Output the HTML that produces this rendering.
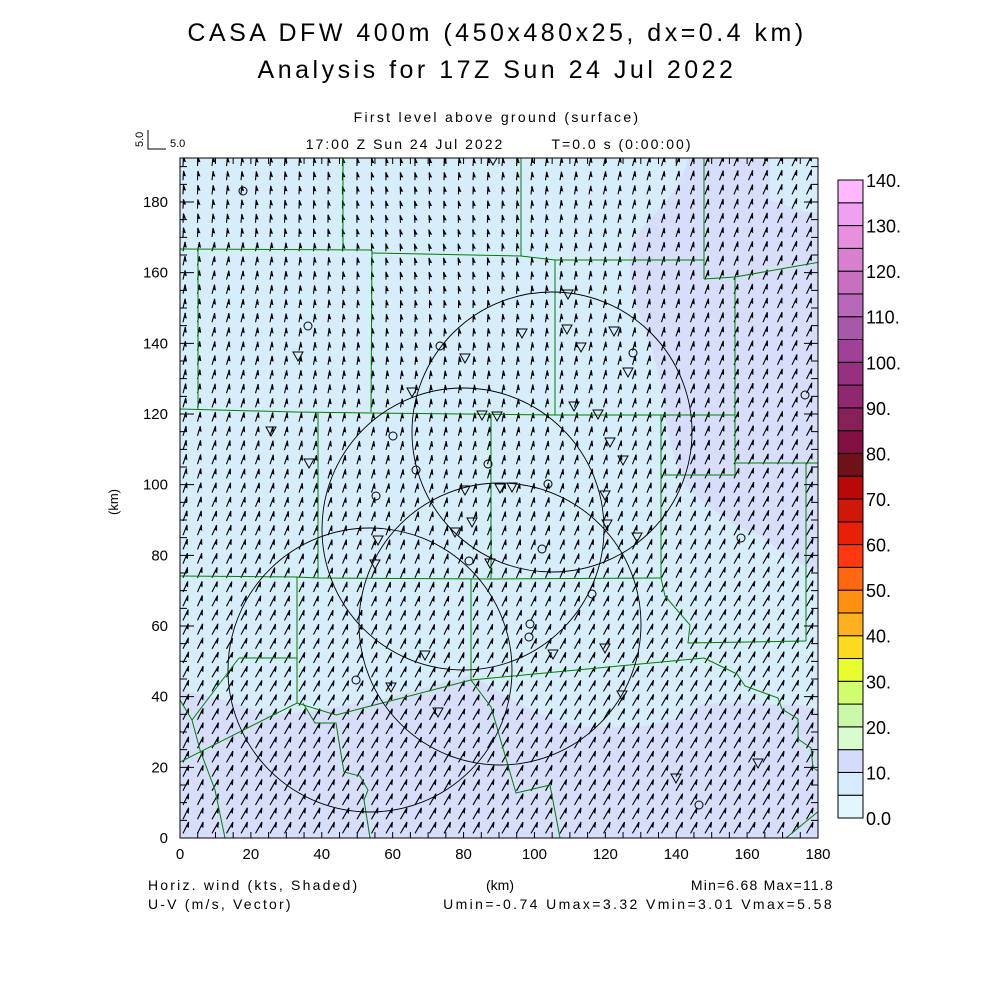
<!DOCTYPE html>
<html><head><meta charset="utf-8">
<style>
html,body{margin:0;padding:0;background:#fff;}
svg{display:block;font-family:"Liberation Sans",sans-serif;}
</style></head>
<body>
<svg id="s" width="1000" height="1000" viewBox="0 0 1000 1000" xmlns="http://www.w3.org/2000/svg">
<rect width="1000" height="1000" fill="#fff"/>
<text x="497" y="41" font-size="25" text-anchor="middle" fill="#000" letter-spacing="3.5">CASA DFW 400m (450x480x25, dx=0.4 km)</text>
<text x="497" y="78" font-size="25" text-anchor="middle" fill="#000" letter-spacing="3.5">Analysis for 17Z Sun 24 Jul 2022</text>
<text x="497" y="122" font-size="14" text-anchor="middle" letter-spacing="2.3">First level above ground (surface)</text>
<text x="405" y="149" font-size="14" text-anchor="middle" letter-spacing="2">17:00 Z Sun 24 Jul 2022</text>
<text x="622" y="149" font-size="14" text-anchor="middle" letter-spacing="2">T=0.0 s (0:00:00)</text>
<text x="0" y="0" font-size="11" transform="translate(143,147) rotate(-90)">5.0</text>
<path d="M148,130 V149 H166" stroke="#000" fill="none"/>
<text x="170" y="147" font-size="11">5.0</text>
<defs><clipPath id="cp"><rect x="180" y="158" width="638" height="680"/></clipPath></defs>
<g clip-path="url(#cp)">
<rect x="180" y="158" width="638" height="680" fill="#d6edfc"/>
<path d="M688,158 C680,200 640,220 630,250 C625,300 660,350 663,404 C670,450 680,480 690,490 C710,510 740,530 760,535 C790,560 810,570 820,570 L820,212 C800,215 790,205 770,200 L770,158 Z" fill="#d6defc"/>
<path d="M180,690 C200,695 230,700 260,712 C290,718 340,705 380,700 C420,690 450,680 470,675 C500,690 550,730 600,727 C650,730 680,720 700,705 C730,700 760,705 800,705 L820,710 L820,838 L180,838 Z" fill="#d6defc"/>
<g id="arrows" stroke="#000" stroke-width="1.1" fill="#000"></g>
<g id="green" stroke="#008000" stroke-width="1" fill="none"></g>
<g stroke="#000" stroke-width="0.9" fill="none">
<circle cx="552" cy="432" r="140"/>
<circle cx="463" cy="529" r="141"/>
<circle cx="500" cy="624" r="141"/>
<circle cx="370" cy="670" r="142"/>
</g>
<g id="marks" stroke="#000" stroke-width="1" fill="none"></g>
</g>
<rect x="180" y="158" width="638" height="680" fill="none" stroke="#000" stroke-width="1"/>
<g id="ticks" stroke="#000" stroke-width="1"></g>
<g id="labels" font-size="15"></g>
<g id="cbar"></g>
<text x="0" y="0" font-size="13" transform="translate(118,515) rotate(-90)">(km)</text>
<text x="500" y="890" font-size="14" text-anchor="middle">(km)</text>
<text x="148" y="890" font-size="14" letter-spacing="2.2">Horiz. wind (kts, Shaded)</text>
<text x="148" y="909" font-size="14" letter-spacing="2.2">U-V (m/s, Vector)</text>
<text x="834" y="890" font-size="14" text-anchor="end" letter-spacing="1.2">Min=6.68 Max=11.8</text>
<text x="834" y="909" font-size="14" text-anchor="end" letter-spacing="2.4">Umin=-0.74 Umax=3.32 Vmin=3.01 Vmax=5.58</text>
</svg>
<script>
(function(){
var NS="http://www.w3.org/2000/svg";
function el(p,t,a,txt){var e=document.createElementNS(NS,t);for(var k in a)e.setAttribute(k,a[k]);if(txt!=null)e.textContent=txt;document.getElementById(p).appendChild(e);return e;}
var d="";
for(var j=0;j<48;j++){for(var i=0;i<45;i++){
 var x=183+i*14.5, y=166+j*14.2;
 var dx=x-430, dy=y-250; var dd=Math.sqrt(dx*dx+dy*dy);
 var u=-0.4+3.4*Math.min(dd/480,1); if(dx<0&&dy<0) u=-0.4+1.2*Math.min(dd/300,1);
 if(x<200) u-=0.4;
 var v=3.4+1.9*Math.min(dd/520,1);
 var L=2.15, ex=x+u*L, ey=y-v*L;
 var ang=Math.atan2(ey-y,ex-x);
 var a1=ang+Math.PI-0.4, hl=5;
 var bx=ex+hl*Math.cos(a1), by=ey+hl*Math.sin(a1);
 var mx=ex+hl*0.85*Math.cos(ang+Math.PI), my=ey+hl*0.85*Math.sin(ang+Math.PI);
 d+="M"+x.toFixed(1)+","+y.toFixed(1)+"L"+ex.toFixed(1)+","+ey.toFixed(1)+"L"+bx.toFixed(1)+","+by.toFixed(1)+"L"+mx.toFixed(1)+","+my.toFixed(1)+"Z";
}}
el("arrows","path",{d:d});
var g=[
"M343,158V249","M180,249L372,250","M198,249V409","M521,158V256","M372,253L521,256L555,260L704,260",
"M704,158V279","M704,279L735,277L820,262","M372,250L371,412","M555,260V415",
"M180,409L295,412L372,413L555,415L735,415","M735,277V463","M661,415V578","M661,475H735V463H820",
"M806,463V641","M318,413V578","M491,415V579","M180,576L297,577L318,578L491,579L661,578",
"M297,577V703","M471,579V680","M239,658H297","M180,762L297,703L336,715L471,680L704,658",
"M661,578L665,596L690,625L688,643L806,641","M704,658L737,674L745,686L778,698L782,709L798,719L798,739L811,748L813,768L820,772",
"M471,680L491,707L516,793L550,785L560,838","M303,703L315,723L336,723L340,748L344,772L360,776L368,790L364,800L370,838",
"M180,700L192,720L200,750L215,790L225,838","M192,720L239,658","M786,838L820,810"];
g.forEach(function(p){el("green","path",{d:p});});
var tri=[[493,160],[271,431],[298,356],[309,463],[412,392],[465,358],[522,333],[482,415],[497,416],[567,329],[581,347],[614,331],[628,372],[568,294],[574,406],[598,414],[610,442],[623,460],[465,490],[455,532],[472,522],[512,487],[500,488],[378,540],[375,564],[605,495],[607,524],[637,537],[425,655],[438,712],[605,648],[622,695],[676,778],[758,763],[553,654],[391,687],[490,563]];
tri.forEach(function(t){var x=t[0],y=t[1];el("marks","path",{d:"M"+(x-5)+","+(y-4)+"H"+(x+5)+"L"+x+","+(y+5)+"Z"});});
var cir=[[243,191],[308,326],[440,346],[393,436],[416,470],[488,464],[376,496],[548,484],[542,549],[469,561],[529,637],[356,680],[592,594],[741,538],[805,395],[699,805],[633,353],[530,624]];
cir.forEach(function(c){el("marks","circle",{cx:c[0],cy:c[1],r:4});});
var px=638/180, py=636/180;
var td="";
for(var k=0;k<=180;k+=5){var x=180+k*px, y=838-k*py; var l=(k%20==0)?14:7;
 td+="M"+x+",158v6M"+x+",838v-6";
 td+="M180,"+y+"h"+l+"M818,"+y+"h-"+l;}
for(var k=185;k<=190;k+=5){var y=838-k*py;td+="M180,"+y+"h7M818,"+y+"h-7";}
el("ticks","path",{d:td});
for(var k=0;k<=180;k+=20){el("labels","text",{x:180+k*px,y:859,"text-anchor":"middle"},String(k));
 el("labels","text",{x:168,y:838-k*py+5,"text-anchor":"end"},String(k));}
var cols=["#e2f6fe","#d4ecfc","#d4dcfc","#d8fcd0","#c8f8a8","#d0fc70","#e8fc30","#ffd820","#ffb020","#ff9010","#ff6810","#ff3810","#e82008","#d01808","#b80808","#701018","#801040","#882058","#902870","#983080","#a04098","#a858a8","#b868b8","#c870c0","#d880d0","#e890e0","#f0a0f0","#ffb8ff"];
var t0=180,b0=818,h=(b0-t0)/28;
for(var k=0;k<28;k++){el("cbar","rect",{x:838,y:b0-(k+1)*h,width:25,height:h,fill:cols[k],stroke:"#000","stroke-width":1});}
for(var k=0;k<=14;k++){el("cbar","text",{x:866,y:b0-k*2*h+7,"font-size":"18"},k==0?"0.0":(k*10)+".");}
})();
</script>
</body></html>
